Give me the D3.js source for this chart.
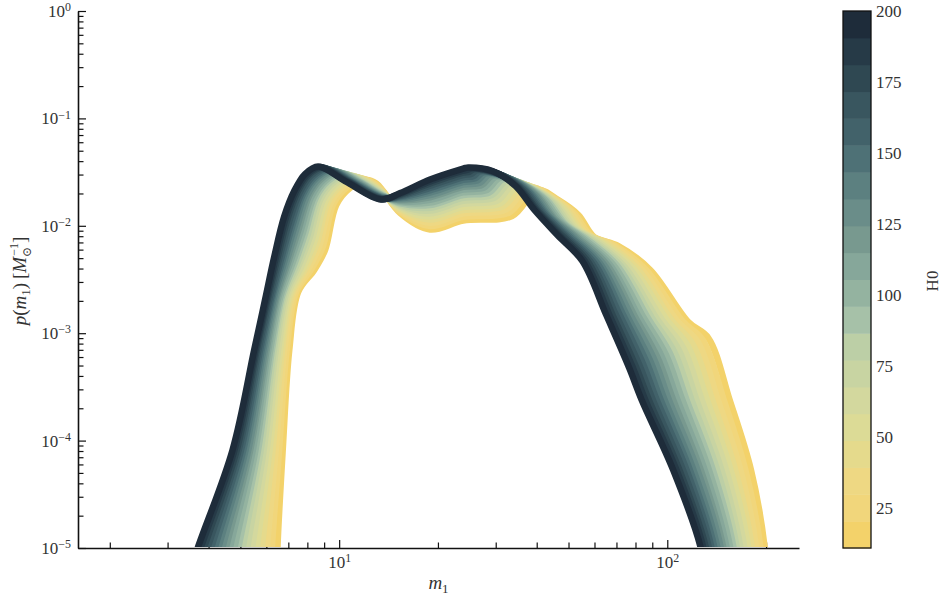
<!DOCTYPE html>
<html>
<head>
<meta charset="utf-8">
<script src="https://cdn.jsdelivr.net/npm/d3@7/dist/d3.min.js"></script>
<style>
  html,body{margin:0;padding:0;background:#fff;}
  svg{display:block;}
</style>
</head>
<body>
<svg id="chart" width="944" height="601"></svg>
<script>
// ---------------- data ----------------
// one curve per H0 value; both axes are logarithmic, so the values
// are kept as log10(m1) and log10(p(m1)) for each curve.
const H0 = [10,20,30,40,50,60,70,80,90,100,110,120,130,140,150,160,170,180,190,200];
const cbarTicks = [25,50,75,100,125,150,175,200];
const xMajorTicks = [10,100];
const yMajorTicks = [1e-5,1e-4,1e-3,1e-2,1e-1,1];
// colour map, from low H0 (yellow) to high H0 (dark slate)
const palette = ["#f3d26a","#f1d67b","#eed883","#e5da8c","#dcdb96","#d3d89e","#c8d4a2","#bccfa6","#a6c1a8","#94b3a0",
                 "#86a79a","#78998f","#6a8d89","#5c8080","#4e7176","#42626a","#39565f","#2f4852","#263a47","#1e2c3a"];

const log10M1 = [
 [0.811,0.812,0.828,0.848,0.875,0.924,0.957,0.991,1.033,1.082,1.113,1.134,1.186,1.277,1.378,1.527,1.604,1.668,1.729,1.777,1.851,1.948,2.064,2.125,2.190,2.255,2.297,2.302],
 [0.792,0.795,0.817,0.840,0.868,0.915,0.949,0.982,1.024,1.072,1.106,1.134,1.186,1.277,1.378,1.517,1.589,1.654,1.715,1.765,1.838,1.934,2.047,2.108,2.172,2.238,2.284,2.289],
 [0.775,0.780,0.807,0.833,0.861,0.907,0.940,0.974,1.015,1.063,1.100,1.133,1.186,1.277,1.378,1.508,1.575,1.641,1.703,1.753,1.826,1.920,2.030,2.093,2.154,2.223,2.271,2.276],
 [0.757,0.764,0.797,0.826,0.855,0.899,0.932,0.965,1.006,1.053,1.094,1.133,1.186,1.277,1.378,1.499,1.562,1.628,1.690,1.741,1.813,1.907,2.014,2.077,2.137,2.207,2.258,2.264],
 [0.741,0.749,0.788,0.820,0.849,0.892,0.925,0.958,0.998,1.044,1.088,1.133,1.186,1.277,1.378,1.490,1.549,1.615,1.679,1.730,1.802,1.894,1.999,2.062,2.121,2.193,2.247,2.253],
 [0.725,0.735,0.779,0.814,0.843,0.885,0.917,0.950,0.990,1.036,1.083,1.132,1.186,1.277,1.378,1.482,1.536,1.603,1.667,1.719,1.791,1.882,1.984,2.048,2.105,2.179,2.235,2.241],
 [0.709,0.720,0.770,0.807,0.837,0.877,0.910,0.942,0.981,1.027,1.077,1.132,1.186,1.277,1.378,1.473,1.524,1.591,1.656,1.708,1.780,1.869,1.969,2.034,2.089,2.165,2.223,2.230],
 [0.694,0.706,0.761,0.801,0.831,0.871,0.903,0.935,0.974,1.019,1.072,1.131,1.186,1.277,1.378,1.465,1.512,1.580,1.645,1.698,1.770,1.858,1.955,2.020,2.074,2.152,2.212,2.220],
 [0.680,0.693,0.753,0.795,0.826,0.864,0.896,0.928,0.966,1.011,1.067,1.131,1.186,1.277,1.378,1.457,1.501,1.569,1.635,1.688,1.760,1.847,1.942,2.007,2.059,2.139,2.202,2.209],
 [0.666,0.681,0.745,0.790,0.821,0.858,0.890,0.922,0.959,1.003,1.062,1.131,1.186,1.277,1.378,1.450,1.490,1.559,1.625,1.679,1.750,1.836,1.929,1.995,2.046,2.127,2.192,2.200],
 [0.651,0.667,0.737,0.784,0.815,0.851,0.883,0.915,0.952,0.995,1.057,1.131,1.186,1.277,1.378,1.442,1.479,1.548,1.614,1.669,1.740,1.825,1.915,1.982,2.031,2.114,2.181,2.189],
 [0.638,0.655,0.729,0.779,0.810,0.845,0.877,0.908,0.945,0.988,1.052,1.130,1.186,1.277,1.378,1.435,1.468,1.538,1.605,1.659,1.731,1.815,1.903,1.970,2.018,2.102,2.171,2.180],
 [0.626,0.644,0.723,0.774,0.806,0.840,0.871,0.903,0.939,0.981,1.048,1.130,1.186,1.277,1.378,1.429,1.459,1.529,1.596,1.651,1.722,1.805,1.892,1.959,2.005,2.092,2.163,2.171],
 [0.613,0.632,0.715,0.769,0.801,0.834,0.865,0.896,0.932,0.974,1.043,1.130,1.186,1.277,1.378,1.421,1.448,1.519,1.587,1.642,1.713,1.795,1.879,1.947,1.992,2.080,2.153,2.162],
 [0.600,0.621,0.708,0.764,0.796,0.828,0.859,0.890,0.926,0.968,1.039,1.129,1.186,1.277,1.378,1.415,1.439,1.510,1.578,1.634,1.705,1.786,1.868,1.936,1.980,2.069,2.144,2.153],
 [0.588,0.610,0.701,0.759,0.792,0.823,0.854,0.885,0.920,0.961,1.034,1.129,1.186,1.277,1.378,1.409,1.429,1.501,1.569,1.626,1.696,1.776,1.857,1.925,1.968,2.059,2.135,2.145],
 [0.576,0.599,0.694,0.754,0.787,0.817,0.848,0.879,0.913,0.954,1.030,1.129,1.186,1.277,1.378,1.402,1.420,1.492,1.561,1.617,1.688,1.767,1.845,1.914,1.956,2.048,2.127,2.136],
 [0.564,0.588,0.688,0.749,0.782,0.812,0.842,0.873,0.907,0.948,1.026,1.129,1.186,1.277,1.378,1.396,1.410,1.483,1.552,1.609,1.680,1.758,1.834,1.903,1.944,2.037,2.118,2.128],
 [0.553,0.578,0.681,0.745,0.778,0.807,0.837,0.868,0.902,0.942,1.022,1.128,1.186,1.277,1.378,1.390,1.402,1.475,1.544,1.602,1.672,1.749,1.824,1.894,1.933,2.028,2.110,2.120],
 [0.543,0.569,0.675,0.741,0.774,0.802,0.832,0.863,0.896,0.936,1.018,1.128,1.186,1.277,1.378,1.384,1.393,1.467,1.537,1.595,1.665,1.741,1.814,1.884,1.922,2.018,2.102,2.113]
];

const log10P = [
 [-5.251,-5,-4.088,-3.156,-2.616,-2.411,-2.225,-1.806,-1.648,-1.574,-1.606,-1.676,-1.881,-2.034,-1.951,-1.909,-1.667,-1.760,-1.899,-2.104,-2.188,-2.411,-2.896,-3.045,-3.622,-4.274,-5,-5.251],
 [-5.251,-5,-4.088,-3.156,-2.622,-2.403,-2.204,-1.797,-1.639,-1.565,-1.605,-1.682,-1.868,-2.002,-1.917,-1.878,-1.652,-1.741,-1.881,-2.087,-2.181,-2.406,-2.891,-3.064,-3.622,-4.274,-5,-5.251],
 [-5.251,-5,-4.088,-3.156,-2.627,-2.395,-2.184,-1.789,-1.630,-1.557,-1.603,-1.687,-1.856,-1.972,-1.885,-1.849,-1.638,-1.723,-1.863,-2.070,-2.174,-2.400,-2.887,-3.082,-3.622,-4.274,-5,-5.251],
 [-5.251,-5,-4.088,-3.156,-2.631,-2.387,-2.164,-1.780,-1.622,-1.549,-1.602,-1.692,-1.844,-1.941,-1.854,-1.819,-1.625,-1.706,-1.845,-2.054,-2.168,-2.395,-2.883,-3.101,-3.622,-4.274,-5,-5.251],
 [-5.251,-5,-4.088,-3.156,-2.636,-2.380,-2.145,-1.772,-1.614,-1.541,-1.600,-1.697,-1.832,-1.913,-1.825,-1.793,-1.612,-1.690,-1.829,-2.039,-2.162,-2.390,-2.879,-3.117,-3.622,-4.274,-5,-5.251],
 [-5.251,-5,-4.088,-3.156,-2.640,-2.373,-2.127,-1.765,-1.606,-1.533,-1.599,-1.701,-1.821,-1.886,-1.796,-1.766,-1.600,-1.673,-1.813,-2.024,-2.155,-2.385,-2.875,-3.134,-3.622,-4.274,-5,-5.251],
 [-5.251,-5,-4.088,-3.156,-2.645,-2.366,-2.109,-1.757,-1.599,-1.526,-1.597,-1.706,-1.810,-1.858,-1.767,-1.739,-1.587,-1.657,-1.797,-2.009,-2.149,-2.380,-2.871,-3.151,-3.622,-4.274,-5,-5.251],
 [-5.251,-5,-4.088,-3.156,-2.649,-2.359,-2.092,-1.750,-1.591,-1.519,-1.596,-1.710,-1.800,-1.832,-1.740,-1.714,-1.576,-1.642,-1.782,-1.995,-2.144,-2.375,-2.867,-3.166,-3.622,-4.274,-5,-5.251],
 [-5.251,-5,-4.088,-3.156,-2.653,-2.352,-2.075,-1.743,-1.584,-1.512,-1.595,-1.715,-1.790,-1.806,-1.713,-1.690,-1.564,-1.628,-1.767,-1.981,-2.138,-2.370,-2.864,-3.182,-3.622,-4.274,-5,-5.251],
 [-5.251,-5,-4.088,-3.156,-2.657,-2.346,-2.059,-1.736,-1.578,-1.506,-1.594,-1.719,-1.780,-1.783,-1.689,-1.667,-1.554,-1.614,-1.754,-1.969,-2.133,-2.366,-2.861,-3.196,-3.622,-4.274,-5,-5.251],
 [-5.251,-5,-4.088,-3.156,-2.661,-2.340,-2.043,-1.729,-1.571,-1.499,-1.592,-1.723,-1.770,-1.758,-1.663,-1.643,-1.542,-1.599,-1.739,-1.955,-2.127,-2.362,-2.857,-3.211,-3.622,-4.274,-5,-5.251],
 [-5.251,-5,-4.088,-3.156,-2.665,-2.334,-2.027,-1.722,-1.564,-1.493,-1.591,-1.727,-1.761,-1.734,-1.638,-1.621,-1.532,-1.586,-1.725,-1.942,-2.122,-2.357,-2.854,-3.225,-3.622,-4.274,-5,-5.251],
 [-5.251,-5,-4.088,-3.156,-2.668,-2.328,-2.013,-1.716,-1.558,-1.487,-1.590,-1.731,-1.752,-1.713,-1.617,-1.600,-1.522,-1.574,-1.713,-1.931,-2.117,-2.354,-2.851,-3.237,-3.622,-4.274,-5,-5.251],
 [-5.251,-5,-4.088,-3.156,-2.672,-2.322,-1.998,-1.710,-1.552,-1.481,-1.589,-1.735,-1.743,-1.690,-1.592,-1.578,-1.512,-1.560,-1.700,-1.918,-2.112,-2.350,-2.848,-3.251,-3.622,-4.274,-5,-5.251],
 [-5.251,-5,-4.088,-3.156,-2.675,-2.317,-1.984,-1.704,-1.546,-1.475,-1.588,-1.738,-1.735,-1.669,-1.571,-1.558,-1.502,-1.548,-1.687,-1.907,-2.108,-2.346,-2.845,-3.264,-3.622,-4.274,-5,-5.251],
 [-5.251,-5,-4.088,-3.156,-2.678,-2.311,-1.970,-1.698,-1.540,-1.469,-1.587,-1.742,-1.726,-1.648,-1.549,-1.538,-1.493,-1.536,-1.675,-1.896,-2.103,-2.342,-2.842,-3.277,-3.622,-4.274,-5,-5.251],
 [-5.251,-5,-4.088,-3.156,-2.682,-2.306,-1.957,-1.692,-1.534,-1.464,-1.586,-1.745,-1.718,-1.627,-1.527,-1.518,-1.483,-1.524,-1.663,-1.884,-2.099,-2.338,-2.839,-3.289,-3.622,-4.274,-5,-5.251],
 [-5.251,-5,-4.088,-3.156,-2.685,-2.300,-1.943,-1.686,-1.528,-1.458,-1.585,-1.749,-1.710,-1.606,-1.505,-1.498,-1.474,-1.511,-1.651,-1.873,-2.094,-2.334,-2.836,-3.302,-3.622,-4.274,-5,-5.251],
 [-5.251,-5,-4.088,-3.156,-2.688,-2.295,-1.930,-1.681,-1.523,-1.453,-1.584,-1.752,-1.702,-1.588,-1.486,-1.480,-1.466,-1.501,-1.640,-1.863,-2.090,-2.331,-2.833,-3.313,-3.622,-4.274,-5,-5.251],
 [-5.251,-5,-4.088,-3.156,-2.691,-2.291,-1.918,-1.676,-1.518,-1.448,-1.583,-1.755,-1.695,-1.569,-1.467,-1.462,-1.457,-1.490,-1.629,-1.853,-2.086,-2.328,-2.831,-3.324,-3.622,-4.274,-5,-5.251]
];

// ---------------- layout ----------------
const FONT = '"Liberation Serif","DejaVu Serif","Times New Roman",serif';
const TEXT = "#333";
const svg = d3.select("#chart");
const plot = {left:78, right:799, top:11, bottom:548};
const x = d3.scaleLog().domain([1.6, 252]).range([plot.left, plot.right]);
const y = d3.scaleLog().domain([1e-5, 1]).range([plot.bottom, plot.top]);
const color = d3.scaleQuantize().domain([10, 200]).range(palette);

const asLabel = sel => sel.style("font-family", FONT).style("fill", TEXT);
const supText = (sel, base, expo) => {
  sel.text(null);
  sel.append("tspan").text(base);
  sel.append("tspan").attr("dy", "-0.48em").attr("font-size", "0.7em").text(expo);
};
const expLabel = d => { const e = Math.round(Math.log10(d)); return e < 0 ? "\u2212" + (-e) : String(e); };

function styleAxis(g, domainWidth) {
  g.attr("font-size", null).attr("font-family", null);
  g.selectAll(".tick line").attr("stroke", "#111").attr("stroke-width", 1.2);
  g.select(".domain").attr("stroke", "#111").attr("stroke-width", domainWidth);
}

// x axis (ticks pointing inward)
const xMinor = x.ticks().filter(v => !xMajorTicks.includes(v));
const gxMinor = svg.append("g").attr("transform", `translate(0,${plot.bottom})`)
  .call(d3.axisBottom(x).tickValues(xMinor).tickSizeInner(-5.5).tickSizeOuter(0).tickFormat(""));
gxMinor.select(".domain").remove();
styleAxis(gxMinor, 0);
const gx = svg.append("g").attr("transform", `translate(0,${plot.bottom})`)
  .call(d3.axisBottom(x).tickValues(xMajorTicks).tickSizeInner(-8).tickSizeOuter(0).tickPadding(8));
styleAxis(gx, 1.6);
gx.selectAll(".tick text").call(asLabel).attr("font-size", 17)
  .each(function(d){ supText(d3.select(this), "10", expLabel(d)); });

// y axis
const yMinor = y.ticks().filter(v => !yMajorTicks.some(t => Math.abs(t - v) / t < 1e-9));
const gyMinor = svg.append("g").attr("transform", `translate(${plot.left},0)`)
  .call(d3.axisLeft(y).tickValues(yMinor).tickSizeInner(-5.5).tickSizeOuter(0).tickFormat(""));
gyMinor.select(".domain").remove();
styleAxis(gyMinor, 0);
const gy = svg.append("g").attr("transform", `translate(${plot.left},0)`)
  .call(d3.axisLeft(y).tickValues(yMajorTicks).tickSizeInner(-8).tickSizeOuter(0).tickPadding(7));
styleAxis(gy, 1.6);
gy.selectAll(".tick text").call(asLabel).attr("font-size", 17)
  .each(function(d){ supText(d3.select(this), "10", expLabel(d)); });

// curves
svg.append("clipPath").attr("id", "plotclip").append("rect")
  .attr("x", plot.left).attr("y", 0)
  .attr("width", plot.right - plot.left).attr("height", plot.bottom - 1);
const gCurves = svg.append("g").attr("clip-path", "url(#plotclip)");
const line = d3.line().x(d => x(d[0])).y(d => y(d[1])).curve(d3.curveCatmullRom.alpha(0.5));
H0.forEach((h, j) => {
  const pts = log10M1[j].map((lm, k) => [Math.pow(10, lm), Math.pow(10, log10P[j][k])]);
  gCurves.append("path")
    .attr("d", line(pts))
    .attr("fill", "none")
    .attr("stroke", color(h))
    .attr("stroke-width", 6.5)
    .attr("stroke-linejoin", "round")
    .attr("stroke-linecap", "round");
});

// axis labels
const xl = svg.append("text").call(asLabel).attr("x", (plot.left + plot.right) / 2).attr("y", 589)
  .attr("text-anchor", "middle").attr("font-size", 19);
xl.append("tspan").attr("font-style", "italic").text("m");
xl.append("tspan").attr("font-size", 13).attr("dy", 4).text("1");

const yl = svg.append("text").call(asLabel)
  .attr("transform", "translate(26,281) rotate(-90)")
  .attr("text-anchor", "middle").attr("font-size", 19);
yl.append("tspan").attr("font-style", "italic").text("p");
yl.append("tspan").text("(");
yl.append("tspan").attr("font-style", "italic").text("m");
yl.append("tspan").attr("font-size", 13).attr("dy", 4).text("1");
yl.append("tspan").attr("dy", -4).text(")\u2009[");
yl.append("tspan").attr("font-style", "italic").text("M");
yl.append("tspan").attr("font-size", 12).attr("dy", 5).text("\u2299");
yl.append("tspan").attr("font-size", 12).attr("dx", -9).attr("dy", -13).text("\u22121");
yl.append("tspan").attr("dy", 8).text("]");

// colour bar
const cb = {x:843, w:28, top:11, bottom:548};
const cbY = d3.scaleLinear().domain([11, 200]).range([cb.bottom, cb.top]);
const cbBand = d3.scaleBand().domain(d3.range(palette.length)).range([cb.bottom, cb.top]);
const gcb = svg.append("g");
gcb.selectAll("rect.band").data(palette).join("rect").attr("class", "band")
  .attr("x", cb.x).attr("width", cb.w)
  .attr("y", (d, i) => cbBand(i))
  .attr("height", cbBand.bandwidth() + 0.5)
  .attr("fill", d => d);
gcb.append("rect").attr("x", cb.x).attr("y", cb.top).attr("width", cb.w).attr("height", cb.bottom - cb.top)
  .attr("fill", "none").attr("stroke", "#111").attr("stroke-width", 1.3);
const gcbAxis = svg.append("g").attr("transform", `translate(${cb.x + cb.w},0)`)
  .call(d3.axisRight(cbY).tickValues(cbarTicks).tickSize(0).tickPadding(5));
gcbAxis.select(".domain").remove();
gcbAxis.attr("font-size", null).attr("font-family", null);
gcbAxis.selectAll(".tick text").call(asLabel).attr("font-size", 17);

svg.append("text").call(asLabel)
  .attr("transform", "translate(938,281) rotate(-90)")
  .attr("text-anchor", "middle").attr("font-size", 17).text("H0");
</script>
</body>
</html>
